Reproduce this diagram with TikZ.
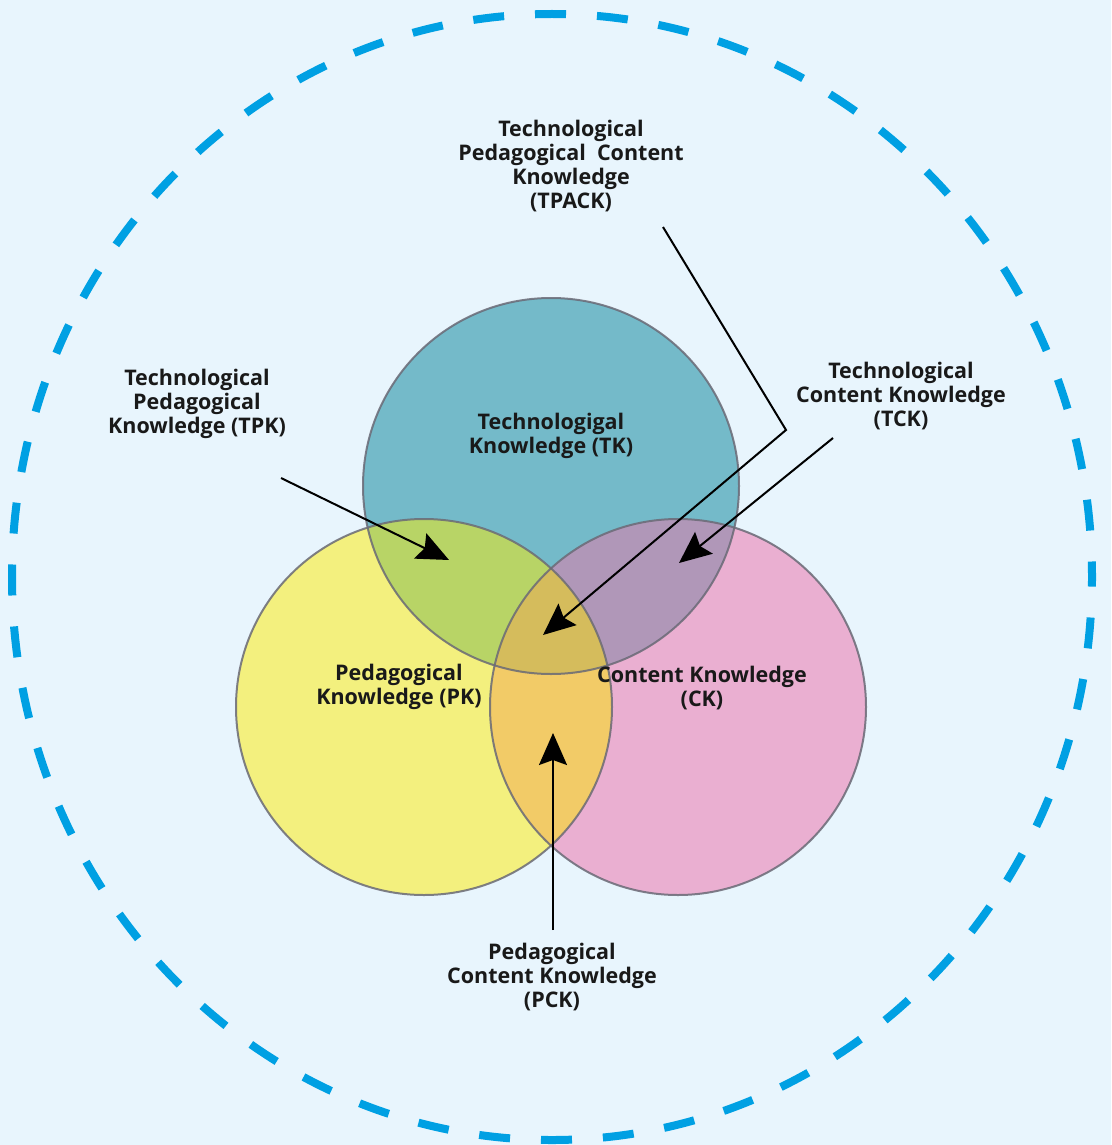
\documentclass[tikz,border=0pt]{standalone}
\usepackage{fontspec}
\setmainfont{Open Sans}
\usetikzlibrary{arrows.meta}
\definecolor{bgc}{HTML}{E8F5FD}
\definecolor{dashc}{HTML}{00A0E3}
\definecolor{tkc}{HTML}{74BAC9}
\definecolor{pkc}{HTML}{F3F07E}
\definecolor{ckc}{HTML}{EAAFD1}
\definecolor{tkpkc}{HTML}{B8D466}
\definecolor{tkckc}{HTML}{B097B8}
\definecolor{pkckc}{HTML}{F2CB67}
\definecolor{allc}{HTML}{D5BC5C}
\definecolor{edgec}{HTML}{6A6A76}
\begin{document}
\begin{tikzpicture}[x=1pt,y=-1pt,
  lbl/.style={align=center,font=\fontsize{21.5}{24}\selectfont\bfseries,text=black!90,inner sep=0pt},
  arr/.style={line width=2pt,-{Stealth[length=32pt,width=28pt,inset=5pt]}},
  rim/.style={draw=edgec,line width=2pt,draw opacity=0.85},
  R/.style={radius=188pt}]
\fill[bgc] (0,0) rectangle (1111,1145);
\useasboundingbox (0,0) rectangle (1111,1145);
\coordinate (mid) at (552,577);
\draw[dashc,line width=8pt,dash pattern=on 31pt off 31pt,dash phase=15.5pt]
  (mid) ellipse [x radius=540pt,y radius=563pt];
\coordinate (ctk) at (551,486);
\coordinate (cpk) at (424,707);
\coordinate (cck) at (678,707);
\fill[tkc] (ctk) circle[R];
\fill[pkc] (cpk) circle[R];
\fill[ckc] (cck) circle[R];
\begin{scope}
  \clip (ctk) circle[R];
  \fill[tkpkc] (cpk) circle[R];
  \fill[tkckc] (cck) circle[R];
\end{scope}
\begin{scope}
  \clip (cpk) circle[R];
  \fill[pkckc] (cck) circle[R];
  \clip (ctk) circle[R];
  \fill[allc] (cck) circle[R];
\end{scope}
\draw[rim] (ctk) circle[R];
\draw[rim] (cpk) circle[R];
\draw[rim] (cck) circle[R];
% labels
\node[lbl] (tpack) at (571,166) {Technological\\Pedagogical\ \ Content\\Knowledge\\(TPACK)};
\node[lbl] (tpk) at (197,404) {Technological\\Pedagogical\\Knowledge (TPK)};
\node[lbl] (tck) at (901,396) {Technological\\Content Knowledge\\(TCK)};
\node[lbl] (tk) at (551,436) {Technologigal\\Knowledge (TK)};
\node[lbl] (pk) at (399,687) {Pedagogical\\Knowledge (PK)};
\node[lbl] (ck) at (702,688) {Content Knowledge\\(CK)};
\node[lbl] (pck) at (552,977) {Pedagogical\\Content Knowledge\\(PCK)};
% arrows
\coordinate (tpkS) at (281,478);
\coordinate (tpkT) at (449,560);
\coordinate (tpackS) at (663,227);
\coordinate (tpackK) at (786,430);
\coordinate (tpackT) at (543,635);
\coordinate (tckS) at (833,438);
\coordinate (tckT) at (679,563);
\coordinate (pckS) at (553,930);
\coordinate (pckT) at (553,733);
\draw[arr] (tpkS) -- (tpkT);
\draw[arr] (tpackS) -- (tpackK) -- (tpackT);
\draw[arr] (tckS) -- (tckT);
\draw[arr] (pckS) -- (pckT);
\end{tikzpicture}
\end{document}
